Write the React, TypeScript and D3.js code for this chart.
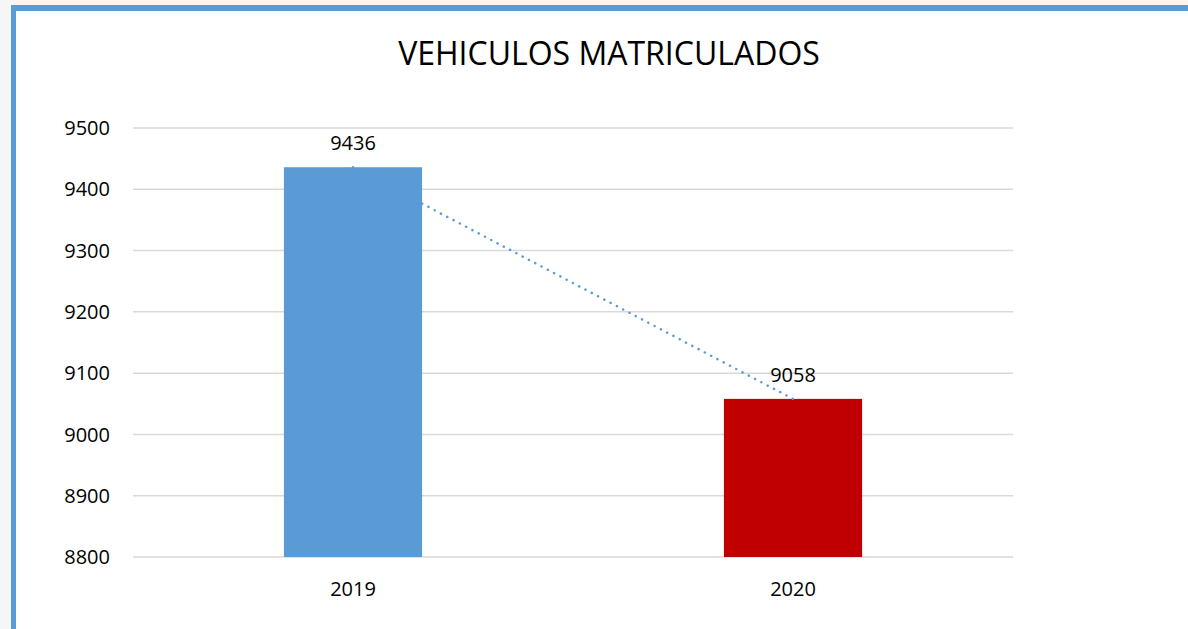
import React, { useRef, useEffect } from 'react';
import * as d3 from 'd3';

const years = ['2019', '2020'];
const vehicles = [9436, 9058];
const barColors = ['#5B9BD5', '#C00000'];
const yTicks = [8800, 8900, 9000, 9100, 9200, 9300, 9400, 9500];

const width = 1188;
const height = 629;

const App = () => {
  const svgRef = useRef<SVGSVGElement>(null);

  useEffect(() => {
    const svg = d3.select(svgRef.current);
    svg.selectAll('*').remove();

    const font = '"Open Sans", "Liberation Sans", sans-serif';
    const margin = { top: 128, right: 175, bottom: 72, left: 133 };
    const innerWidth = width - margin.left - margin.right;
    const innerHeight = height - margin.top - margin.bottom;

    // outer background + frame
    svg.append('rect').attr('width', width).attr('height', height).attr('fill', '#f6f6f6');
    svg.append('rect').attr('x', 11).attr('y', 5).attr('width', width - 11).attr('height', height - 5).attr('fill', '#5B9BD5');
    svg.append('rect').attr('x', 16).attr('y', 11).attr('width', width - 16).attr('height', height - 11).attr('fill', '#ffffff');

    svg.append('text')
      .attr('x', 609)
      .attr('y', 65)
      .attr('text-anchor', 'middle')
      .style('font-family', font)
      .style('font-size', '32px')
      .attr('fill', '#000')
      .text('VEHICULOS MATRICULADOS');

    const g = svg.append('g').attr('transform', `translate(${margin.left},${margin.top})`);

    const xScale = d3.scaleBand().domain(years).range([0, innerWidth]).padding(0);
    const yScale = d3.scaleLinear().domain([8800, 9500]).range([innerHeight, 0]);

    // gridlines
    g.selectAll('line.grid')
      .data(yTicks)
      .enter()
      .append('line')
      .attr('class', 'grid')
      .attr('x1', 0)
      .attr('x2', innerWidth)
      .attr('y1', d => yScale(d))
      .attr('y2', d => yScale(d))
      .attr('stroke', '#d9d9d9')
      .attr('stroke-width', 1.5);

    // y tick labels
    g.selectAll('text.ytick')
      .data(yTicks)
      .enter()
      .append('text')
      .attr('class', 'ytick')
      .attr('x', -23)
      .attr('y', d => yScale(d))
      .attr('dy', '0.36em')
      .attr('text-anchor', 'end')
      .style('font-family', font)
      .style('font-size', '20px')
      .attr('fill', '#000')
      .text(d => d);

    const barW = xScale.bandwidth() * 0.314;
    const cx = (d: string) => (xScale(d) as number) + xScale.bandwidth() / 2;

    // bars
    g.selectAll('rect.bar')
      .data(vehicles)
      .enter()
      .append('rect')
      .attr('class', 'bar')
      .attr('x', (d, i) => cx(years[i]) - barW / 2)
      .attr('y', d => yScale(d))
      .attr('width', barW)
      .attr('height', d => innerHeight - yScale(d))
      .attr('fill', (d, i) => barColors[i]);

    // dotted trend line
    const line = d3.line<number>()
      .x((d, i) => cx(years[i]))
      .y(d => yScale(d));
    g.append('path')
      .datum(vehicles)
      .attr('d', line)
      .attr('fill', 'none')
      .attr('stroke', '#5B9BD5')
      .attr('stroke-width', 2.5)
      .attr('stroke-linecap', 'round')
      .attr('stroke-dasharray', '0.1 7');

    // value labels
    g.selectAll('text.val')
      .data(vehicles)
      .enter()
      .append('text')
      .attr('class', 'val')
      .attr('x', (d, i) => cx(years[i]))
      .attr('y', d => yScale(d) - 17)
      .attr('text-anchor', 'middle')
      .style('font-family', font)
      .style('font-size', '20px')
      .attr('fill', '#000')
      .text(d => d);

    // x labels
    g.selectAll('text.xtick')
      .data(years)
      .enter()
      .append('text')
      .attr('class', 'xtick')
      .attr('x', d => cx(d))
      .attr('y', innerHeight + 39)
      .attr('text-anchor', 'middle')
      .style('font-family', font)
      .style('font-size', '20px')
      .attr('fill', '#000')
      .text(d => d);
  }, []);

  return (
    <svg
      ref={svgRef}
      width={width}
      height={height}
      style={{ position: 'absolute', left: 0, top: 0, display: 'block' }}
    />
  );
};

export default App;
